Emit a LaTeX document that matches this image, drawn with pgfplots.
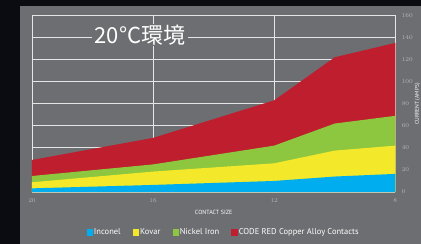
\documentclass[border=0pt]{standalone}
\usepackage{pgfplots}
\pgfplotsset{compat=1.18}
\usepackage{fontspec}
\setmainfont{PT Sans}
\newfontfamily\cjk{Noto Sans CJK JP}
\definecolor{darkbg}{HTML}{0B0B12}
\definecolor{panel}{HTML}{6D6E71}
\definecolor{cred}{HTML}{BE1E2D}
\definecolor{cgreen}{HTML}{8DC63F}
\definecolor{cyellow}{HTML}{F3E829}
\definecolor{cblue}{HTML}{00AEEF}
\definecolor{tickgray}{HTML}{B4B5B8}
\begin{document}
\begin{tikzpicture}[x=1pt,y=1pt]
\path[use as bounding box] (0,0) rectangle (421,244);
\fill[darkbg] (0,0) rectangle (421,244);
\fill[panel] (20,0) rectangle (421,238);
\begin{axis}[
  at={(32pt,52pt)}, anchor=south west,
  scale only axis, width=363.3pt, height=176.7pt,
  xmin=8, xmax=20, x dir=reverse,
  ymin=0, ymax=160,
  xtick={8,12,16,20}, ytick={0,20,...,160},
  grid=major,
  major grid style={white!82!panel, line width=0.8pt},
  axis line style={draw=none},
  major tick length=0pt,
  yticklabel pos=right,
  ticklabel style={font=\fontsize{5.8}{5.8}\selectfont, text=tickgray},
  xticklabel style={yshift=-3pt},
  yticklabel style={xshift=3pt},
  xlabel={CONTACT SIZE},
  xlabel style={at={(axis description cs:0.5,0)}, anchor=center, yshift=-20.5pt, font=\fontsize{6}{6}\selectfont, text=white},
  legend columns=4,
  legend style={at={(axis description cs:0.526,-0.23)}, anchor=center, draw=none, fill=none,
    text=white, font=\fontsize{8.5}{8.5}\selectfont,
    /tikz/every even column/.append style={column sep=11pt},
    nodes={inner sep=1pt}},
  legend image code/.code={\fill[#1] (0pt,-3.2pt) rectangle (6.4pt,3.2pt);},
]
\addlegendimage{fill=cblue, draw=none}
\addlegendentry{Inconel}
\addlegendimage{fill=cyellow, draw=none}
\addlegendentry{Kovar}
\addlegendimage{fill=cgreen, draw=none}
\addlegendentry{Nickel Iron}
\addlegendimage{fill=cred, draw=none}
\addlegendentry{CODE RED Copper Alloy Contacts}

\addplot[fill=cred, draw=none, forget plot] coordinates {(20,29) (16,49) (12,83) (10,122) (8,135)} \closedcycle;
\addplot[fill=cgreen, draw=none, forget plot] coordinates {(20,14.5) (16,25) (12,42) (10,62) (8,69)} \closedcycle;
\addplot[fill=cyellow, draw=none, forget plot] coordinates {(20,8.8) (16,18.5) (12,26) (10,37.5) (8,42)} \closedcycle;
\addplot[fill=cblue, draw=none, forget plot] coordinates {(20,3.3) (16,6.4) (12,10) (10,14) (8,16.4)} \closedcycle;
\end{axis}
\node[rotate=90, font=\fontsize{5.5}{5.5}\selectfont, text=white, anchor=center, inner sep=0pt] at (417.6,140) {CURRENT (AMPS)};
\node[fill=panel, text=white, inner xsep=3pt, inner ysep=1pt, font=\cjk\fontsize{22}{22}\selectfont] at (140,209) {20°C環境};
\end{tikzpicture}
\end{document}
